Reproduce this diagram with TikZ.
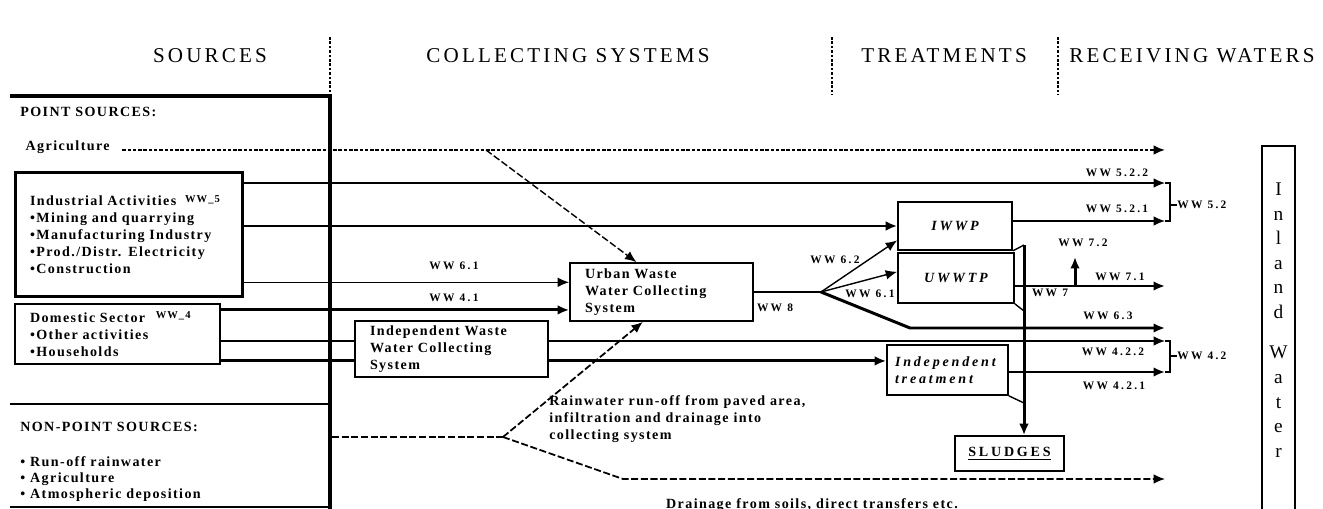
\documentclass[tikz,border=0pt]{standalone}
\usepackage{fontspec}
\setmainfont{Liberation Serif}
\newfontfamily\headfont[LetterSpace=15]{Liberation Serif}
\newfontfamily\bodyfont[LetterSpace=10]{Liberation Serif}
\newfontfamily\widefont[LetterSpace=20]{Liberation Serif}
\usetikzlibrary{arrows.meta,backgrounds}
\tikzset{
  hdr/.style={font=\headfont\fontsize{12}{14}\selectfont, inner sep=0pt},
  txt/.style={font=\bodyfont\bfseries\fontsize{8}{9.7}\selectfont, align=left, inner sep=0pt},
  wwlab/.style={font=\widefont\bfseries\fontsize{6.5}{7}\selectfont, inner sep=0pt},
  treat/.style={font=\widefont\bfseries\itshape\fontsize{8}{10}\selectfont},
  box/.style={draw, line width=1pt, fill=white, inner sep=0pt},
  arr/.style={-{Latex[length=6.5pt,width=5.5pt]}},
  fine/.style={line width=0.8pt},
  heavy/.style={line width=1.7pt},
  dots/.style={dash pattern=on 2pt off 1pt, line width=1.1pt},
  dashes/.style={dash pattern=on 4pt off 1.5pt, line width=1pt},
  sep/.style={dash pattern=on 1.5pt off 1pt, line width=1pt},
}
\begin{document}
\begin{tikzpicture}[x=0.02cm,y=-0.02cm]
  \useasboundingbox (0,0) rectangle (1323,509);
  \node[hdr] (hsrc) at (210,56) {SOURCES};
  \node[hdr] (hcol) at (568,56) {COLLECTING SYSTEMS};
  \node[hdr] (htrt) at (944,56) {TREATMENTS};
  \node[hdr] (hrcv) at (1192,56) {RECEIVING WATERS};
  \foreach \x in {330,832,1058}
    \draw[sep] (\x,37) -- (\x,95);
  \draw[line width=2.2pt] (10,96) -- (330,96) -- (330,520);
  \draw[fine] (10,404) -- (330,404);
  \draw[fine] (10,507) -- (330,507);

  \node[txt, anchor=west] (pts) at (20,112) {POINT SOURCES:};
  \node[txt, anchor=west, inner xsep=7pt] (agri) at (13,147) {Agriculture};
  \node[box, heavy, txt, text width=3.96cm, inner xsep=0.3cm, minimum height=2.5cm] (ind) at (129,234.5)
    {\mbox{Industrial Activities\hspace{5pt}\raisebox{2pt}{\fontsize{6}{6}\selectfont WW\_5}}\\
     •Mining and quarrying\\•Manufacturing Industry\\•Prod./Distr. Electricity\\•Construction};
  \node[box, txt, text width=3.5cm, inner xsep=0.3cm, minimum height=1.2cm] (dom) at (117.5,334)
    {\mbox{Domestic Sector\hspace{6pt}\raisebox{2pt}{\fontsize{6}{6}\selectfont WW\_4}}\\
     •Other activities\\•Households};
  \node[txt, anchor=west] (npshdr) at (20,427) {NON-POINT SOURCES:};
  \node[txt, anchor=north west, font=\bodyfont\bfseries\fontsize{8}{9.2}\selectfont] (npslist) at (20,456)
    {• Run-off rainwater\\• Agriculture\\• Atmospheric deposition};

  \node[box, txt, text width=3.06cm, inner xsep=0.3cm, minimum height=1.16cm] (urban) at (661.5,292)
    {Urban Waste\\Water Collecting\\System};
  \node[box, txt, text width=3.26cm, inner xsep=0.3cm, minimum height=1.12cm] (indwc) at (451.5,349)
    {Independent Waste\\Water Collecting\\System};
  \node[txt, anchor=north west] (rwtxt) at (549,395)
    {Rainwater run-off from paved area,\\infiltration and drainage into\\collecting system};
  \node[txt] (drtxt) at (812,505) {Drainage from soils, direct transfers etc.};

  \node[box, treat, minimum width=2.28cm, minimum height=0.96cm] (iwwp) at (955,226) {IWWP};
  \node[box, treat, minimum width=2.32cm, minimum height=1cm] (uwwtp) at (956,278) {UWWTP};
  \node[box, treat, align=left, text width=2.1cm, inner xsep=0.16cm, minimum height=1cm] (indtr) at (947.5,370)
    {Independent\\treatment};
  \node[box, font=\widefont\bfseries\fontsize{8}{10}\selectfont, minimum width=2.18cm, minimum height=0.7cm] (sludge) at (1009.5,453.5)
    {\underline{SLUDGES}};
  \node[draw, line width=1.3pt, minimum width=0.66cm, minimum height=7.68cm] (inland) at (1278.5,338) {};
  \node[align=center, inner sep=0pt, font=\fontsize{11}{14}\selectfont] (inlandtxt) at (1278.5,320)
    {I\\n\\l\\a\\n\\d\\[9pt]W\\a\\t\\e\\r};

  \node[wwlab] (w61a) at (454,266) {WW 6.1};
  \node[wwlab] (w41) at (454,298) {WW 4.1};
  \node[wwlab] (w522) at (1117,173) {WW 5.2.2};
  \node[wwlab] (w521) at (1117,209) {WW 5.2.1};
  \node[wwlab] (w8) at (775,308) {WW 8};
  \node[wwlab] (w62a) at (835,260) {WW 6.2};
  \node[wwlab] (w61b) at (870,294) {WW 6.1};
  \node[wwlab] (w72) at (1083,243) {WW 7.2};
  \node[wwlab] (w7) at (1050,293) {WW 7};
  \node[wwlab] (w71) at (1120,277) {WW 7.1};
  \node[wwlab] (w63) at (1108,316) {WW 6.3};
  \node[wwlab] (w422) at (1113,352) {WW 4.2.2};
  \node[wwlab] (w421) at (1114,386) {WW 4.2.1};
  \node[wwlab, anchor=west] (w52) at (1177,205) {WW 5.2};
  \node[wwlab, anchor=west] (w42) at (1177,356) {WW 4.2};

  \coordinate (ragri) at (1165,150);
  \coordinate (r522) at (1165,183);
  \coordinate (r521) at (1165,221);
  \coordinate (r71) at (1165,286);
  \coordinate (t72) at (1075,257);
  \coordinate (r63) at (1165,328);
  \coordinate (r422) at (1165,341);
  \coordinate (r421) at (1165,372);
  \coordinate (rdr) at (1165,479);
  \coordinate (a1) at (486,150);
  \coordinate (nps) at (332,437);
  \coordinate (fork) at (503,437);
  \coordinate (bdr) at (623,479);
  \coordinate (j8) at (821,292);
  \coordinate (b63) at (910,328);
  \coordinate (s1) at (1024,245);
  \coordinate (s2) at (1024,311);
  \coordinate (s3) at (1024,403);
  \coordinate (b52) at (1170,205);
  \coordinate (b42) at (1170,356);

  \begin{scope}[on background layer]
    \draw[dots, arr] (agri.east |- ragri) -- (ragri);
    \draw[fine, arr] (ind.east |- r522) -- (r522);
    \draw[heavy, arr] (ind.east |- iwwp.west) -- (iwwp.west);
    \draw[fine, arr] (ind.east |- urban.174) -- (urban.174);
    \draw[heavy, arr] (dom.east |- urban.191) -- (urban.191);
    \draw[fine, arr] (dom.east |- r422) -- (r422);
    \draw[heavy] (dom.east |- indwc.187) -- (indwc.187);
    \draw[heavy, arr] (indwc.east |- indwc.187) -- (indtr.west |- indwc.187);
    \draw[dashes, fine, arr] (a1) -- (urban.130);
    \draw[dashes] (nps) -- (fork);
    \draw[dashes, arr] (fork) -- (urban.238);
    \draw[dashes, arr] (fork) -- (bdr) -- (rdr);
    \draw[heavy] (urban.east) -- (j8);
    \draw[fine, arr] (j8) -- (iwwp.194);
    \draw[fine, arr] (j8) -- (uwwtp.174);
    \draw[heavy, arr] (j8) -- (b63) -- (r63);
    \draw[fine, arr] (iwwp.east |- r521) -- (r521);
    \draw[heavy, arr] (uwwtp.east |- r71) -- (r71);
    \draw[heavy, arr] (t72 |- r71) -- (t72);
    \draw[heavy, arr] (indtr.east |- r421) -- (r421);
    \draw[fine] (iwwp.south east) -- (s1);
    \draw[fine] (uwwtp.south east) -- (s2);
    \draw[fine] (indtr.south east) -- (s3);
    \draw[heavy, arr] (s1) -- (s1 |- sludge.north);
    \draw[fine] (r522) -| (b52) |- (r521);
    \draw[fine] (b52) -- (w52.west);
    \draw[fine] (r422) -| (b42) |- (r421);
    \draw[fine] (b42) -- (w42.west);
  \end{scope}
\end{tikzpicture}
\end{document}
